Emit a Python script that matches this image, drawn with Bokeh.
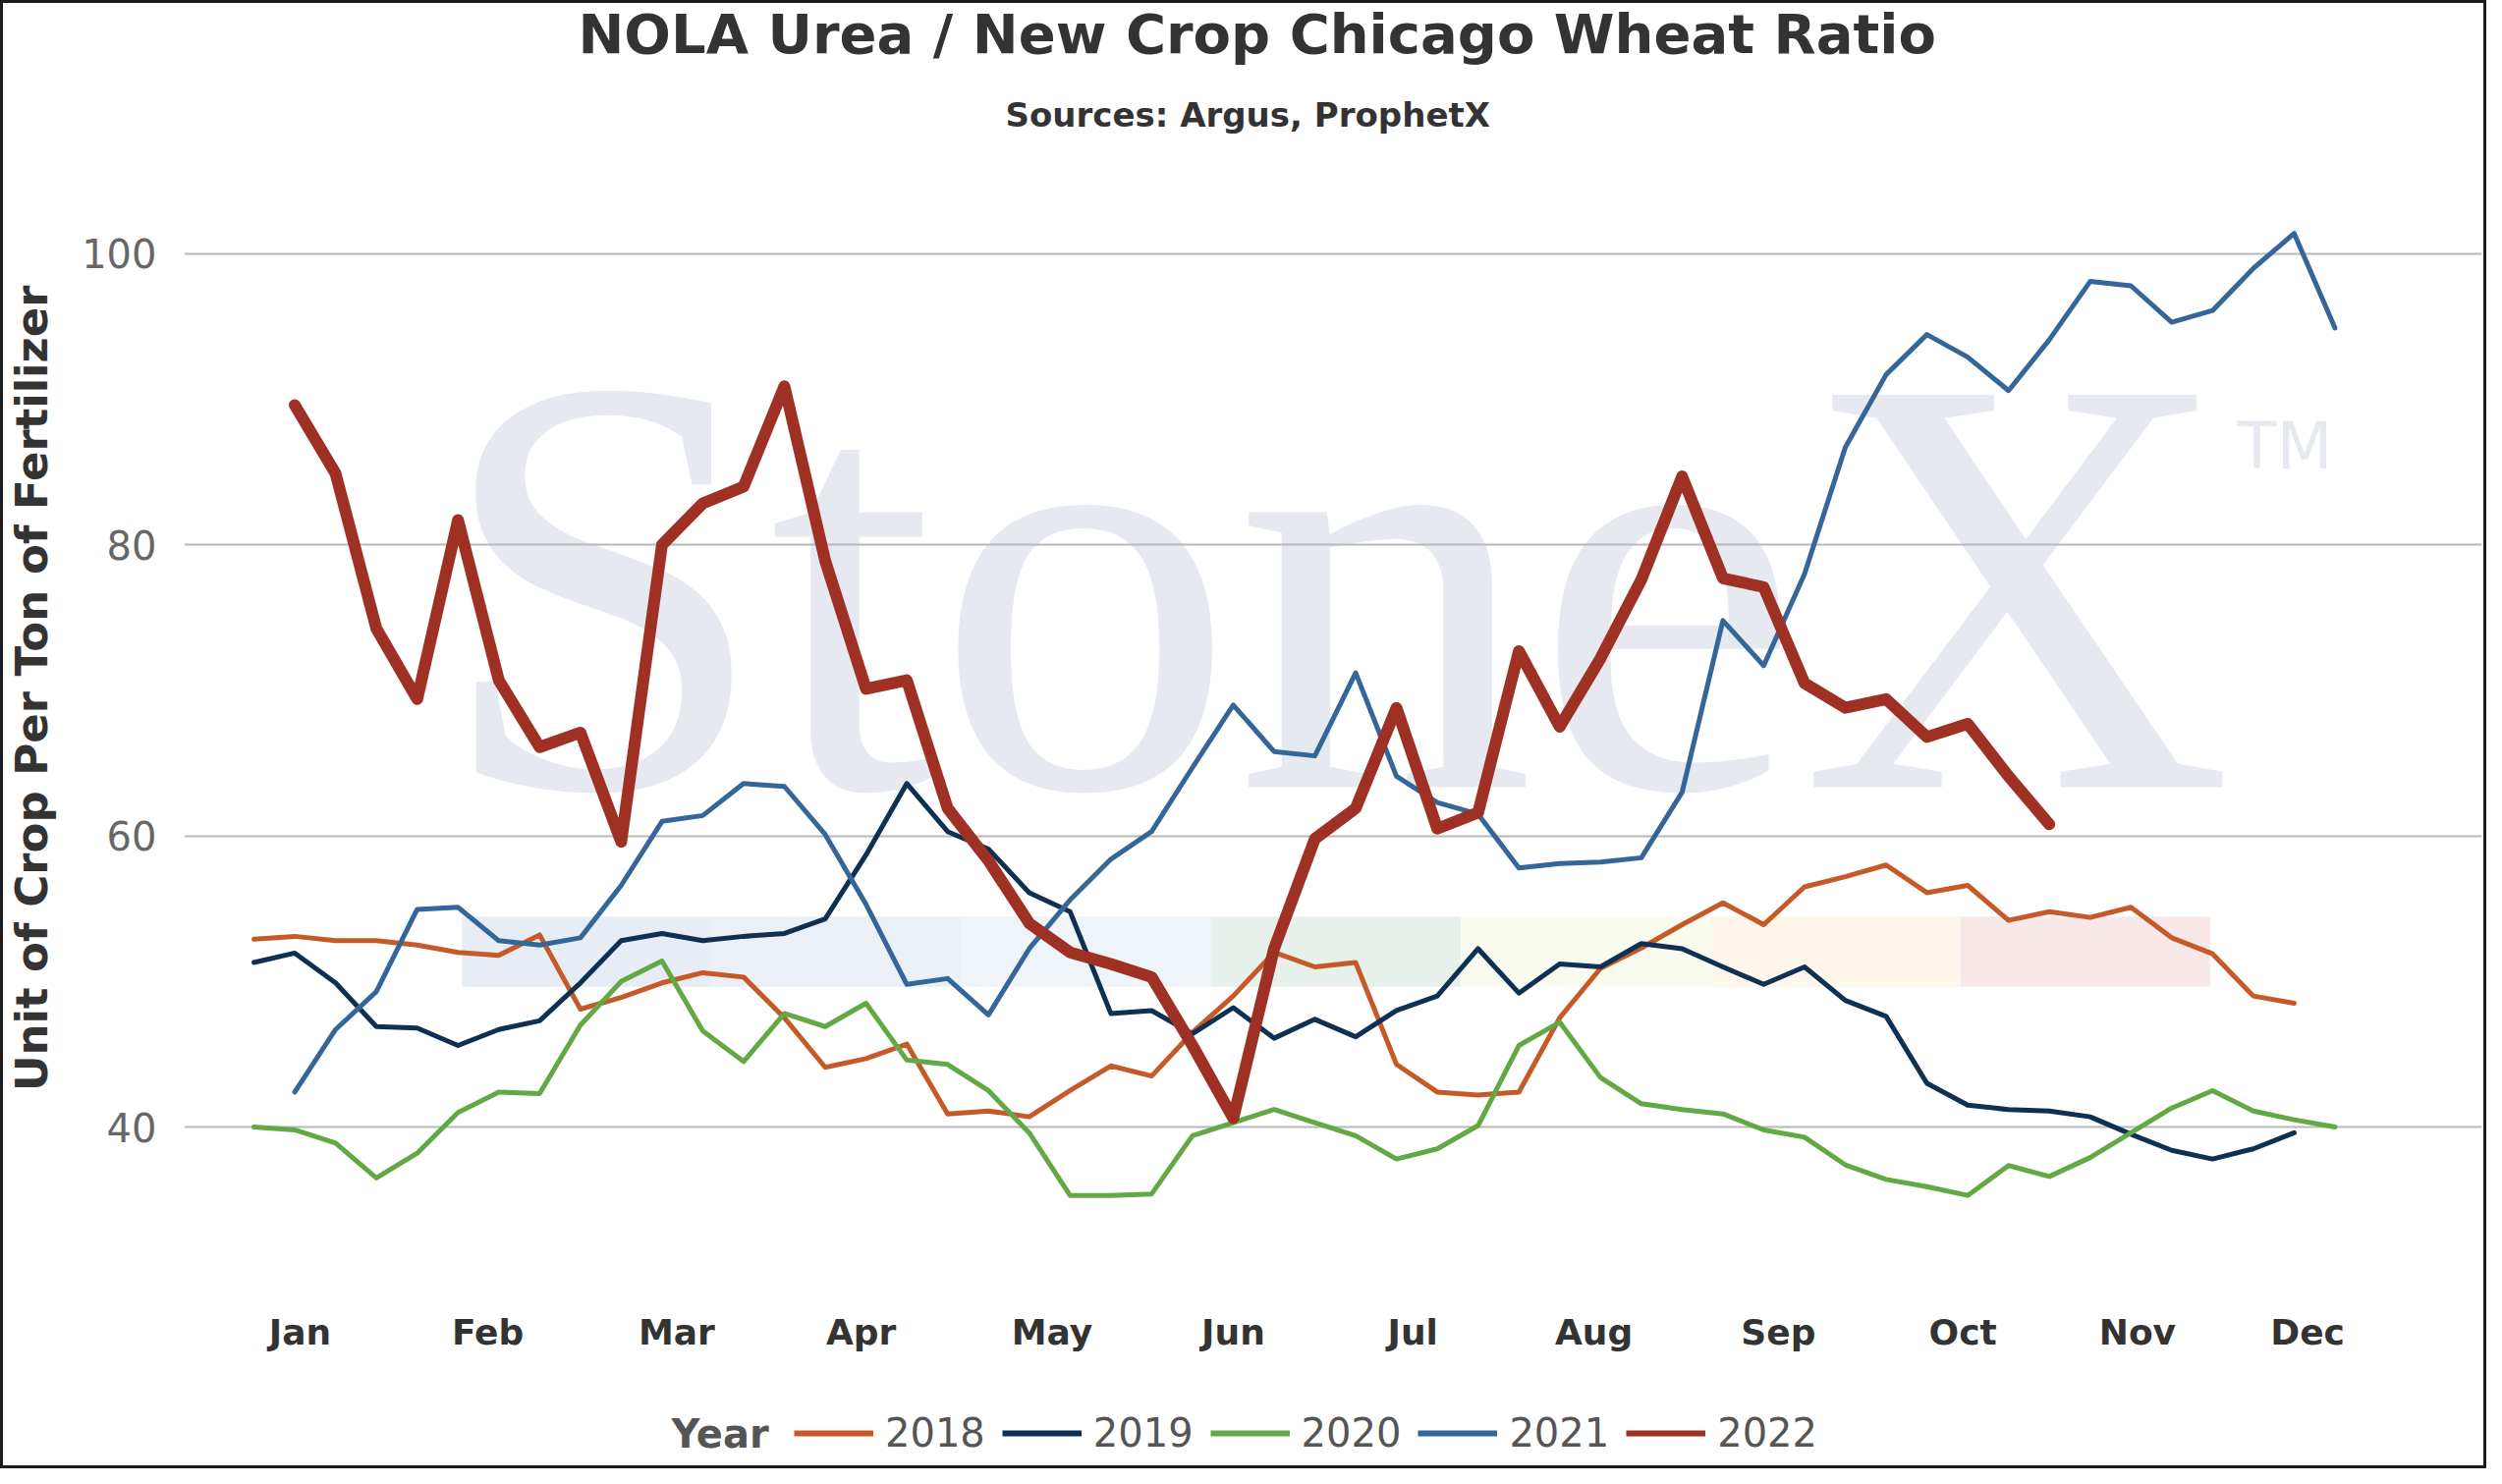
from bokeh.plotting import figure
from bokeh.layouts import column
from bokeh.models import ColumnDataSource, FixedTicker, Legend, LegendItem, Title, Range1d, Label
from bokeh.core.properties import value
from bokeh.embed import file_html
from bokeh.resources import INLINE

# week index of each point (0 = first week of January)
weeks_2018 = list(range(0, 51))
weeks_2019 = list(range(0, 51))
weeks_2020 = list(range(0, 52))
weeks_2021 = list(range(1, 52))
weeks_2022 = list(range(1, 45))

ratio_2018 = [52.9, 53.1, 52.8, 52.8, 52.5, 52.0, 51.8, 53.2, 48.1, 48.9,
              49.9, 50.6, 50.3, 47.5, 44.1, 44.7, 45.7, 40.9, 41.1, 40.7,
              42.5, 44.2, 43.5, 46.5, 49.0, 52.0, 51.0, 51.3, 44.3, 42.4,
              42.2, 42.4, 47.5, 50.9, 52.3, 53.9, 55.4, 53.9, 56.5, 57.2,
              58.0, 56.1, 56.6, 54.2, 54.8, 54.4, 55.1, 53.0, 51.9, 49.0, 48.5]
ratio_2019 = [51.3, 51.95, 49.9, 46.9, 46.8, 45.6, 46.7, 47.3, 49.9, 52.8,
              53.3, 52.8, 53.1, 53.3, 54.3, 58.7, 63.6, 60.3, 59.1, 56.1,
              54.8, 47.8, 48.0, 46.4, 48.2, 46.1, 47.4, 46.2, 48.0, 49.0,
              52.25, 49.2, 51.2, 51.0, 52.6, 52.25, 51.0, 49.8, 51.0, 48.7,
              47.6, 43.0, 41.5, 41.2, 41.1, 40.7, 39.5, 38.4, 37.8, 38.5, 39.6]
ratio_2020 = [40.0, 39.8, 38.9, 36.5, 38.2, 41.0, 42.4, 42.3, 47.0, 50.0,
              51.4, 46.6, 44.5, 47.8, 46.9, 48.5, 44.6, 44.3, 42.5, 39.6,
              35.3, 35.3, 35.4, 39.4, 40.3, 41.2, 40.3, 39.4, 37.8, 38.5,
              40.1, 45.6, 47.2, 43.4, 41.6, 41.2, 40.9, 39.8, 39.3, 37.4,
              36.4, 35.9, 35.3, 37.35, 36.6, 37.9, 39.6, 41.3, 42.5, 41.1, 40.5, 40.0]
ratio_2021 = [42.4, 46.7, 49.3, 54.95, 55.1, 52.8, 52.5, 53.0, 56.6, 61.0,
              61.4, 63.6, 63.4, 60.1, 55.3, 49.8, 50.2, 47.7, 52.25, 55.6,
              58.4, 60.3, 64.7, 69.0, 65.8, 65.5, 71.2, 64.1, 62.3, 61.5,
              57.8, 58.1, 58.2, 58.5, 63.0, 74.8, 71.7, 78.0, 86.7, 91.7,
              94.45, 92.9, 90.6, 94.1, 98.1, 97.8, 95.3, 96.1, 99.0, 101.4, 94.9]
ratio_2022 = [89.6, 84.9, 74.25, 69.4, 81.7, 70.7, 66.1, 67.1, 59.6, 80.0,
              82.85, 84.0, 90.9, 78.9, 70.1, 70.7, 61.9, 58.3, 54.0, 52.0,
              51.2, 50.3, 45.6, 40.6, 52.25, 59.8, 61.9, 68.8, 60.5, 61.6,
              72.7, 67.5, 72.2, 77.6, 84.7, 77.7, 77.1, 70.5, 68.8, 69.4,
              66.8, 67.7, 64.1, 60.8]

month_labels = ["Jan", "Feb", "Mar", "Apr", "May", "Jun",
                "Jul", "Aug", "Sep", "Oct", "Nov", "Dec"]
month_ticks = [1.13, 5.73, 10.36, 14.88, 19.56, 24.0,
               28.4, 32.84, 37.36, 41.88, 46.16, 50.33]
y_ticks = [40, 60, 80, 100]

series = [
    ("2018", weeks_2018, ratio_2018, "#C55A28", 5),
    ("2019", weeks_2019, ratio_2019, "#0E3052", 5),
    ("2020", weeks_2020, ratio_2020, "#62A845", 5),
    ("2021", weeks_2021, ratio_2021, "#356699", 5),
    ("2022", weeks_2022, ratio_2022, "#9E3124", 12),
]

# watermark (StoneX logo) placement
wm_left, wm_right = 5.1, 47.95
wm_bottom, wm_top = 49.64, 54.46
wm_colors = ["#E8ECF4", "#EBF0F7", "#EFF4F9", "#E7F0EA", "#FAFBEF", "#FEF6EA", "#F8E8E8"]
WM_TEXT = "#E6E9EF"
FONT = "DejaVu Sans"
NBSP = "\u00a0"
W = 2525

fig = figure(width=W, height=1396, output_backend="svg", toolbar_location=None,
             x_range=Range1d(-1.71, 54.6), y_range=Range1d(29, 106),
             min_border_left=173, min_border_right=2, min_border_top=157, min_border_bottom=89)
fig.outline_line_color = None
fig.background_fill_color = "white"
fig.border_fill_color = "white"

# watermark
step = (wm_right - wm_left) / len(wm_colors)
fig.quad(left=[wm_left + i * step for i in range(len(wm_colors))],
         right=[wm_left + (i + 1) * step for i in range(len(wm_colors))],
         bottom=wm_bottom, top=wm_top, fill_color=wm_colors, line_color=None, level="image")
fig.text(x=[4.45], y=[77.25], text=["StoneX"], text_font=value("Liberation Serif"),
         text_font_size=value("610px"), text_color=WM_TEXT, text_baseline="alphabetic",
         text_align="left", level="image")
fig.text(x=[48.6], y=[86.75], text=["TM"], text_font=value(FONT), text_font_size=value("66px"),
         text_color=WM_TEXT, text_baseline="alphabetic", text_align="left", level="image")

for name, xs, ys, color, lw in series:
    src = ColumnDataSource(data={"week": xs, "ratio": ys})
    fig.line(x="week", y="ratio", source=src, line_color=color, line_width=lw,
             line_join="round", line_cap="round")

# axes
fig.xaxis.ticker = FixedTicker(ticks=month_ticks)
fig.xaxis.major_label_overrides = {t: m for t, m in zip(month_ticks, month_labels)}
fig.xaxis.axis_line_color = None
fig.xaxis.major_tick_line_color = None
fig.xaxis.minor_tick_line_color = None
fig.xaxis.major_label_text_font = FONT
fig.xaxis.major_label_text_font_style = "bold"
fig.xaxis.major_label_text_font_size = "36px"
fig.xaxis.major_label_text_color = "#333333"
fig.xaxis.major_label_standoff = 19

fig.yaxis.ticker = FixedTicker(ticks=y_ticks)
fig.yaxis.axis_line_color = None
fig.yaxis.major_tick_line_color = None
fig.yaxis.minor_tick_line_color = None
fig.yaxis.major_label_text_font = FONT
fig.yaxis.major_label_text_font_size = "40px"
fig.yaxis.major_label_text_color = "#666666"
fig.yaxis.major_label_standoff = 22
fig.yaxis.axis_label = NBSP * 5 + "Unit of Crop Per Ton of Fertilizer"
fig.yaxis.axis_label_text_font = FONT
fig.yaxis.axis_label_text_font_style = "bold"
fig.yaxis.axis_label_text_font_size = "45px"
fig.yaxis.axis_label_text_color = "#333333"
fig.yaxis.axis_label_standoff = 21

fig.xgrid.visible = False
fig.ygrid.grid_line_color = "#B8B8B8"
fig.ygrid.grid_line_width = 2

# titles (subtitle first so it sits closest to the plot)
fig.add_layout(Title(text="Sources: Argus, ProphetX", align="left", offset=836,
                     text_font=FONT, text_font_style="bold", text_font_size="34px",
                     text_color="#333333", standoff=65), "above")
fig.add_layout(Title(text="NOLA Urea / New Crop Chicago Wheat Ratio", align="left", offset=401,
                     text_font=FONT, text_font_style="bold", text_font_size="56px",
                     text_line_height=0.7, text_color="#333333", standoff=-8), "above")

# legend strip under the chart (its frame lines up with the chart frame)
leg = figure(width=W, height=93, output_backend="svg", toolbar_location=None,
             x_range=Range1d(0, 1), y_range=Range1d(0, 1),
             x_axis_location=None, y_axis_location=None, min_border=0)
leg.grid.visible = False
leg.outline_line_color = None
leg.background_fill_color = "white"
leg.border_fill_color = "white"
items = []
for name, xs, ys, color, lw in series:
    proxy = leg.line(x=[float("nan")], y=[float("nan")], line_color=color, line_width=6)
    items.append(LegendItem(label=name, renderers=[proxy]))
legend = Legend(items=items, orientation="horizontal", location=(621, 10),
                label_text_font=FONT, label_text_font_size="40px", label_text_color="#555555",
                glyph_width=81, glyph_height=40, label_standoff=12, spacing=17,
                border_line_color=None, background_fill_alpha=0, margin=0, padding=0)
leg.add_layout(legend, "center")
leg.add_layout(Label(x=496, y=33, x_units="screen", y_units="screen", text="Year",
                     text_baseline="middle", text_font=FONT, text_font_style="bold",
                     text_font_size="40px", text_color="#555555"))

p = column(fig, leg, spacing=0, styles={"border": "3px solid #1c1c1c"})

open("out.html", "w").write(file_html(p, INLINE))
